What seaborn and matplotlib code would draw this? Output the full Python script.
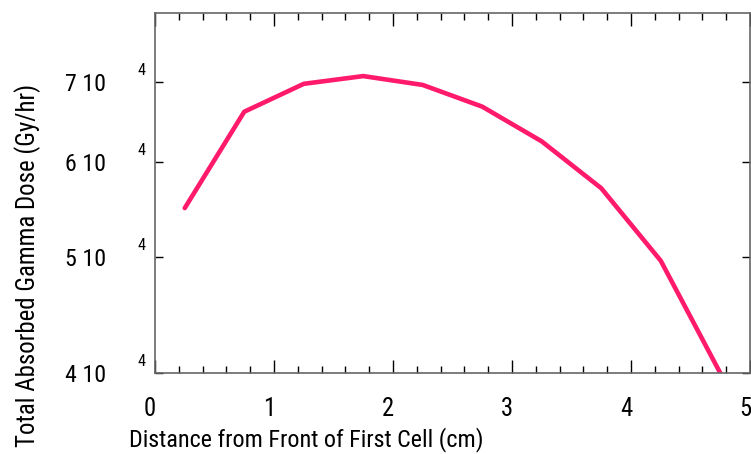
import matplotlib
matplotlib.use("Agg")
import matplotlib.pyplot as plt
import matplotlib.transforms as mtransforms
from matplotlib.ticker import MultipleLocator, FixedLocator, NullLocator, FixedFormatter
from matplotlib.font_manager import FontProperties
from matplotlib import font_manager
import seaborn as sns
import pandas as pd

# ---- data ----
distance_cm = [0.25, 0.75, 1.25, 1.75, 2.25, 2.75, 3.25, 3.75, 4.25, 4.75]
dose_gy_hr = [54950, 66150, 69800, 70850, 69650, 66800, 62480, 57090, 49650, 40000]
y_tick_values = [40000, 50000, 60000, 70000]
y_tick_labels = ["4 10", "5 10", "6 10", "7 10"]
y_tick_exp = ["4", "4", "4", "4"]
x_tick_values = [0, 1, 2, 3, 4, 5]
x_tick_labels = ["0", "1", "2", "3", "4", "5"]

sns.set_theme(style="white")
plt.rcParams["font.family"] = ["Liberation Sans", "DejaVu Sans"]
plt.rcParams["text.color"] = "black"

# look for a narrow / condensed regular face
def pick_font():
    prefs = ["liberationsansnarrow-regular", "robotocondensed-regular", "opensans_condensed",
             "dejavusanscondensed.ttf"]
    files = [f.fname for f in font_manager.fontManager.ttflist]
    for p in prefs:
        for fn in files:
            if p in fn.lower().replace(" ", ""):
                return fn
    return None

narrow = pick_font()

def fp(size):
    if narrow:
        return FontProperties(fname=narrow, size=size)
    return FontProperties(family=["Liberation Sans", "DejaVu Sans"], size=size)

df = pd.DataFrame({"x": distance_cm, "y": dose_gy_hr})

fig = plt.figure(figsize=(7.51, 4.54), dpi=100)
ax = fig.add_axes([155 / 751, 1 - 373 / 454, (750 - 155) / 751, (373 - 13) / 454])
sns.lineplot(data=df, x="x", y="y", ax=ax, color="#ff1a6b", linewidth=3.3)

ax.set_yscale("log")
ax.set_xlim(0, 5)
ax.set_ylim(40000, 80000)

ax.xaxis.set_major_locator(FixedLocator(x_tick_values))
ax.xaxis.set_major_formatter(FixedFormatter(x_tick_labels))
ax.xaxis.set_minor_locator(MultipleLocator(0.2))
ax.yaxis.set_major_locator(FixedLocator(y_tick_values))
ax.yaxis.set_major_formatter(FixedFormatter(y_tick_labels))
ax.yaxis.set_minor_locator(NullLocator())

ax.tick_params(axis="x", which="major", direction="in", top=True, bottom=True,
               length=9.5, width=1, color="black", labelcolor="black", pad=17)
ax.tick_params(axis="x", which="minor", direction="in", top=True, bottom=True,
               length=4.7, width=1, color="black")
ax.tick_params(axis="y", which="major", direction="in", left=True, right=True,
               length=5.5, width=1, color="black", labelcolor="black", pad=35)

for sp in ax.spines.values():
    sp.set_color("#666666")
    sp.set_linewidth(1.2)

ax.set_xlabel("")
ax.set_ylabel("")

def fit_size(text_obj, target_px, base=18.0, vertical=False):
    fig.canvas.draw()
    ext = text_obj.get_window_extent()
    cur = ext.height if vertical else ext.width
    return base * target_px / cur

xl = fig.text(306 / 751, 1 - 440 / 454, "Distance from Front of First Cell (cm)", ha="center",
              va="center", color="black", fontproperties=fp(18))
xl.set_fontproperties(fp(fit_size(xl, 355)))

yl = fig.text(28 / 751, 1 - 265.5 / 454, "Total Absorbed Gamma Dose (Gy/hr)", ha="center",
              va="center", rotation=90, color="black", fontproperties=fp(18))
yl.set_fontproperties(fp(fit_size(yl, 363, vertical=True)))

probe = fig.text(0.5, 0.5, "7 10", fontproperties=fp(18))
tick_size = fit_size(probe, 41)
probe.remove()

for lab in ax.get_xticklabels():
    lab.set_fontproperties(fp(tick_size * 1.03))
    lab.set_transform(lab.get_transform() + mtransforms.ScaledTranslation(-5 / 100, 0, fig.dpi_scale_trans))
for lab in ax.get_yticklabels():
    lab.set_fontproperties(fp(tick_size))

for v, e in zip(y_tick_values, y_tick_exp):
    ax.annotate(e, xy=(0, v), xycoords=("axes fraction", "data"), xytext=(-10, 12),
                textcoords="offset pixels", ha="right", va="center", color="black",
                fontproperties=fp(tick_size * 0.68))

fig.savefig("out.png", dpi=100)
